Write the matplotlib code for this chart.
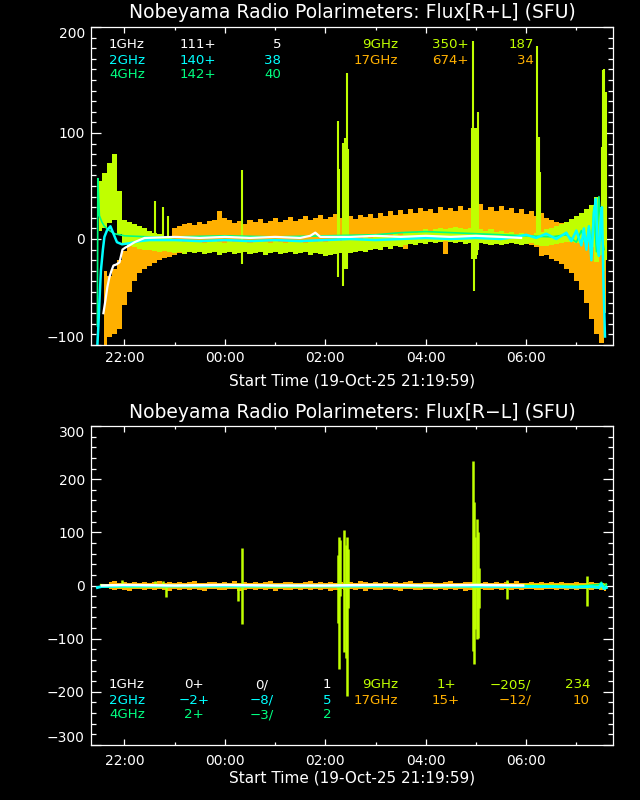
import numpy as np
import matplotlib
matplotlib.use('Agg')
import matplotlib.pyplot as plt
from matplotlib.ticker import MultipleLocator, FuncFormatter

nan = np.nan

# couleurs des canaux (1, 2, 4, 9, 17 GHz)
C1 = '#ffffff'
C2 = '#00ffff'
C4 = '#00ff80'
C9 = '#c0ff00'
C17 = '#ffb000'

# grille de temps des enveloppes de bruit (heures depuis 00:00 le 19-Oct, pas 6 min)
t_env = np.round(np.arange(21.4, 31.61, 0.1), 2)

# ---------------- Flux R+L ----------------
rl_17_hi = [nan, nan, -30, -35, -28, -20, -11, -7, -5, -4,
            -4, -5, -4, -3, -4, -2, 10, 12, 14, 15,
            13, 16, 14, 17, 18, 26, 20, 18, 15, 17,
            14, 18, 16, 19, 15, 17, 20, 16, 18, 21,
            17, 19, 22, 18, 20, 23, 19, 21, 24, 20,
            18, 22, 19, 23, 21, 24, 20, 25, 22, 26,
            23, 27, 24, 28, 25, 29, 26, 28, 25, 30,
            27, 29, 26, 31, 27, 29, 28, 33, 27, 30,
            26, 31, 27, 29, 25, 28, 24, 26, 22, 25,
            20, 18, 16, 15, 13, 11, 9, 7, 6, 4,
            2, 0, -20]
rl_17_lo = [nan, nan, -100, -92, -90, -85, -62, -50, -40, -32,
            -28, -25, -23, -20, -18, -17, -15, -13, -12, -11,
            -10, -11, -9, -10, -9, -8, -9, -10, -8, -9,
            -8, -10, -9, -8, -10, -9, -8, -9, -10, -8,
            -9, -8, -10, -9, -8, -9, -8, -7, -9, -8,
            -7, -8, -6, -7, -6, -5, -6, -5, -4, -5,
            -4, -3, -9, -3, -4, -3, -2, -3, -4, -3,
            -14, -3, -4, -3, -2, -4, -3, -2, -3, -4,
            -3, -2, -4, -3, -5, -4, -5, -6, -8, -16,
            -15, -19, -21, -24, -28, -32, -40, -48, -60, -75,
            -90, -98, -70]

rl_9_hi = [nan, 55, 62, 72, 80, 45, 18, 16, 14, 12,
           10, 8, 6, 5, 3, 2, 0, -2, -3, -2,
           -3, -2, -4, -3, -2, -3, -4, -2, -3, -3,
           -2, -4, -3, -2, -3, -4, -2, -3, -4, -3,
           -2, -3, -4, -2, -3, -2, -3, -2, -1, -2,
           -1, 0, 1, 0, 2, 1, 3, 2, 4, 3,
           5, 4, 6, 7, 6, 8, 9, 8, 9, 10,
           9, 10, 11, 10, 9, 10, 8, 9, 8, 9,
           7, 8, 6, 7, 5, 6, 5, 4, 6, 7,
           9, 10, 12, 14, 16, 19, 22, 25, 28, 32,
           40, 30, 20]
rl_9_lo = [nan, 8, 10, 15, 18, 5, -5, -7, -8, -9,
           -10, -10, -11, -12, -11, -12, -13, -12, -14, -12,
           -13, -12, -14, -13, -12, -15, -13, -12, -14, -13,
           -12, -14, -13, -12, -15, -13, -12, -14, -13, -12,
           -14, -13, -12, -15, -13, -14, -16, -15, -14, -13,
           -14, -13, -12, -11, -12, -10, -9, -10, -8, -9,
           -7, -8, -6, -5, -6, -4, -5, -3, -4, -3,
           -2, -3, -4, -3, -5, -4, -3, -4, -5, -6,
           -5, -6, -5, -4, -5, -6, -5, -4, -6, -7,
           -7, -6, -5, -4, -3, -3, -4, -3, -3, -8,
           -22, -15, -10]

# pics 9 GHz (R+L)
rl_9_spk_t = [22.60, 22.77, 22.87, 24.34, 26.25, 26.28, 26.36, 26.39, 26.43, 26.45,
              28.92, 28.95, 28.97, 29.00, 29.02, 29.04, 30.22, 30.255, 30.28,
              31.51, 31.53, 31.55, 31.59]
rl_9_spk_lo = [0, 0, 0, -24, -36, -5, -44, -28, -28, -10,
               -19, -19, -49, -19, -15, -10, -5, 0, 0,
               -10, -20, -30, -20]
rl_9_spk_hi = [36, 30, 22, 65, 111, 66, 91, 95, 157, 85,
               105, 187, 105, 105, 100, 120, 182, 96, 63,
               87, 159, 160, 139]

rl_4_t = [21.46, 21.47, 21.50, 21.55, 21.60, 21.70, 21.80, 22.00, 22.50, 23.0,
          24.0, 25.0, 26.0, 27.0, 27.5, 28.0, 28.5, 29.0, 29.5, 30.0,
          30.5, 30.8, 31.0, 31.1, 31.2, 31.25, 31.3, 31.35, 31.4, 31.45,
          31.5, 31.55]
rl_4_v = [-82, 57, 22, 16, 12, 8, 5, 3, 2, 2,
          3, 2, 3, 4, 6, 7, 6, 5, 4, 3,
          2, 4, -3, 8, -6, 12, -8, 30, -12, 40,
          5, -10]

rl_2_t = [21.46, 21.48, 21.50, 21.53, 21.57, 21.60, 21.65, 21.72, 21.78, 21.85,
          21.95, 22.1, 22.3, 22.5, 23.0, 23.5, 24.0, 24.5, 25.0, 25.5,
          26.0, 26.5, 27.0, 27.5, 28.0, 28.5, 29.0, 29.5, 29.8, 30.0,
          30.2, 30.4, 30.6, 30.8, 30.9, 31.0, 31.1, 31.15, 31.2, 31.25,
          31.3, 31.35, 31.39, 31.42, 31.45, 31.48, 31.51, 31.54, 31.57]
rl_2_v = [-100, -82, -60, -30, -10, 2, 8, 12, 5, -3,
          -5, -4, -2, -1, -1, -2, -1, -2, -1, -2,
          -1, 0, -1, 0, 1, 0, 1, 0, 2, 4,
          1, 5, 0, 6, -2, 8, -6, 10, -10, 12,
          -20, 25, 38, -5, -16, 15, 30, -40, -92]

rl_1_t = [21.58, 21.62, 21.66, 21.70, 21.74, 21.78, 21.84, 21.90, 21.93, 21.96,
          22.02, 22.1, 22.2, 22.3, 22.4, 23.0, 23.5, 24.0, 24.5, 25.0,
          25.5, 25.7, 25.8, 25.9, 26.5, 27.0, 27.5, 28.0, 28.5, 29.0,
          29.5, 29.9]
rl_1_v = [-70, -58, -45, -36, -30, -25, -24, -22, -16, -10,
          -8, -6, -3, -1, 1, 2, 1, 2, 1, 2,
          1, 3, 6, 2, 2, 3, 2, 3, 2, 3,
          2, 1]

# ---------------- Flux R-L ----------------
lr_17_hi = [nan, nan, nan, 6, 8, 5, 7, 4, 6, 5,
            7, 4, 6, 8, 5, 6, 4, 7, 5, 6,
            8, 5, 4, 6, 7, 5, 6, 4, 8, 5,
            6, 4, 7, 5, 6, 8, 4, 5, 7, 6,
            5, 4, 6, 8, 5, 7, 4, 6, 5, 7,
            4, 6, 5, 8, 6, 4, 7, 5, 6, 4,
            7, 5, 6, 8, 4, 5, 6, 7, 5, 4,
            6, 8, 5, 4, 7, 6, 5, 4, 6, 5,
            7, 4, 6, 5, 8, 5, 4, 6, 5, 7,
            4, 6, 5, 7, 4, 5, 6, 4, 5, 6,
            5, 4, 3]
lr_17_lo = [nan, nan, nan, -7, -9, -6, -8, -10, -7, -6,
            -8, -7, -9, -6, -8, -10, -7, -8, -6, -9,
            -7, -8, -10, -6, -7, -9, -8, -6, -7, -10,
            -8, -6, -9, -7, -8, -6, -10, -7, -8, -9,
            -6, -8, -7, -9, -6, -8, -7, -10, -8, -6,
            -9, -7, -8, -6, -10, -7, -8, -9, -6, -7,
            -8, -10, -7, -6, -8, -9, -7, -6, -8, -7,
            -9, -6, -8, -7, -10, -8, -6, -7, -9, -8,
            -6, -8, -7, -9, -6, -8, -7, -6, -8, -9,
            -7, -6, -8, -7, -9, -6, -8, -7, -6, -8,
            -7, -9, -10]

lr_9_t = [21.5, 22, 23, 24, 25, 26, 27, 28, 29, 30, 31, 31.6]
lr_9_hi = [4, 3, 3, 4, 3, 3, 4, 3, 3, 4, 3, 5]
lr_9_lo = [-3, -4, -3, -3, -4, -3, -3, -4, -3, -3, -4, -5]

lr_9_spk_t = [21.95, 22.61, 22.77, 22.83, 24.26, 24.34, 26.25, 26.27, 26.29, 26.37,
              26.41, 26.44, 26.46, 28.94, 28.96, 28.98, 29.02, 29.04, 29.06, 29.62,
              31.21]
lr_9_spk_lo = [0, 0, -4, -21, -30, -72, -70, -157, -20, -126,
               -136, -208, -43, -123, -147, -81, -100, -98, -43, -25,
               -38]
lr_9_spk_hi = [10, 8, 8, 0, 5, 70, 57, 91, 85, 104,
               77, 92, 68, 234, 157, 92, 126, 100, 32, 11,
               17]

lr_4_t = [21.46, 21.55, 25, 29, 31.0, 31.45, 31.5, 31.55, 31.6]
lr_4_v = [-3, -2, 0, 0, -2, 2, 6, -3, 2]

lr_2_t = [21.46, 21.5, 21.55, 22, 24, 26, 28, 29.94, 30.5, 31.0, 31.3, 31.45, 31.5, 31.55, 31.6]
lr_2_v = [-4, -3, -2, -1, -1, -1, -1, -2, -2, -3, -2, -4, 3, -6, -4]

lr_1_t = [21.55, 22, 23, 24, 25, 26, 27, 28, 29, 29.94]
lr_1_v = [0, 1, 0, 1, 0, 0, 1, 0, 1, 0]

# textes de légende
names_a = ['1GHz', '2GHz', '4GHz']
names_b = ['9GHz', '17GHz']
cols_a = [C1, C2, C4]
cols_b = [C9, C17]
rl_off_a = ['111+', '140+', '142+']
rl_max_a = ['5', '38', '40']
rl_off_b = ['350+', '674+']
rl_max_b = ['187', '34']
lr_off_a = ['0+', '\u22122+', '2+']
lr_min_a = ['0/', '\u22128/', '\u22123/']
lr_max_a = ['1', '5', '2']
lr_off_b = ['1+', '15+']
lr_min_b = ['\u2212205/', '\u221212/']
lr_max_b = ['234', '10']

plt.rcParams['font.family'] = ['DejaVu Sans']

fig = plt.figure(figsize=(6.4, 8), dpi=100, facecolor='black')


def fx(px):
    return px / 640.0


def fy(py):
    return 1 - py / 800.0


def style_axes(ax, ymin, ymax, yminor, xpad):
    ax.set_facecolor('black')
    for s in ax.spines.values():
        s.set_color('white')
        s.set_linewidth(0.9)
    ax.set_xlim(21.333, 31.73)
    ax.set_ylim(ymin, ymax)
    ax.set_xticks([22, 24, 26, 28, 30])
    ax.xaxis.set_minor_locator(MultipleLocator(1))
    ax.xaxis.set_major_formatter(FuncFormatter(lambda v, p: '%02d:00' % (int(round(v)) % 24)))
    yt = list(range(ymin, ymax + 1, 100))
    ax.set_yticks(yt, [str(v).replace('-', '\u2212') for v in yt])
    ax.yaxis.set_minor_locator(MultipleLocator(yminor))
    ax.tick_params(which='both', direction='in', top=True, right=True,
                   colors='white', labelcolor='white', labelsize=10, width=0.9)
    ax.tick_params(axis='x', which='major', length=4.3, pad=xpad)
    ax.tick_params(axis='x', which='minor', length=2.2)
    ax.tick_params(axis='y', which='major', length=7.2, pad=4.5)
    ax.tick_params(axis='y', which='minor', length=3.6)
    labs = ax.get_yticklabels()
    labs[0].set_va('bottom')
    labs[-1].set_va('top')


# ---- panneau haut : R+L
ax1 = fig.add_axes([fx(91), fy(345), fx(522), 318 / 800.0])
ax1.fill_between(t_env, rl_17_lo, rl_17_hi, step='mid', color=C17, lw=0)
ax1.fill_between(t_env, rl_9_lo, rl_9_hi, step='mid', color=C9, lw=0)
ax1.vlines(rl_9_spk_t, rl_9_spk_lo, rl_9_spk_hi, color=C9, lw=1.5)
ax1.plot(rl_4_t, rl_4_v, color=C4, lw=1.2)
ax1.plot(rl_2_t, rl_2_v, color=C2, lw=1.8)
ax1.plot(rl_1_t, rl_1_v, color=C1, lw=1.6)
style_axes(ax1, -100, 200, 10, 4.5)

# ---- panneau bas : R-L
ax2 = fig.add_axes([fx(91), fy(745), fx(522), 319 / 800.0])
ax2.fill_between(t_env, lr_17_lo, lr_17_hi, step='mid', color=C17, lw=0)
ax2.fill_between(lr_9_t, lr_9_lo, lr_9_hi, color=C9, lw=0)
ax2.vlines(lr_9_spk_t, lr_9_spk_lo, lr_9_spk_hi, color=C9, lw=1.8)
ax2.plot(lr_4_t, lr_4_v, color=C4, lw=1.2)
ax2.plot(lr_2_t, lr_2_v, color=C2, lw=2.0)
ax2.plot(lr_1_t, lr_1_v, color=C1, lw=1.8)
style_axes(ax2, -300, 300, 20, 6.5)

# titres et étiquettes
fig.text(fx(352), fy(13), 'Nobeyama Radio Polarimeters: Flux[R+L] (SFU)',
         color='white', fontsize=13.5, ha='center', va='center')
fig.text(fx(352), fy(413), 'Nobeyama Radio Polarimeters: Flux[R\u2212L] (SFU)',
         color='white', fontsize=13.5, ha='center', va='center')
fig.text(fx(352), fy(381), 'Start Time (19-Oct-25 21:19:59)',
         color='white', fontsize=11, ha='center', va='center')
fig.text(fx(352), fy(778), 'Start Time (19-Oct-25 21:19:59)',
         color='white', fontsize=11, ha='center', va='center')

# légende haut
rows_top = [45, 60, 74]
for i in range(3):
    y = fy(rows_top[i])
    fig.text(fx(109), y, names_a[i], color=cols_a[i], fontsize=9.6, va='center')
    fig.text(fx(198), y, rl_off_a[i], color=cols_a[i], fontsize=9.6, va='center', ha='center')
    fig.text(fx(281), y, rl_max_a[i], color=cols_a[i], fontsize=9.6, va='center', ha='right')
for i in range(2):
    y = fy(rows_top[i])
    fig.text(fx(398), y, names_b[i], color=cols_b[i], fontsize=9.6, va='center', ha='right')
    fig.text(fx(469), y, rl_off_b[i], color=cols_b[i], fontsize=9.6, va='center', ha='right')
    fig.text(fx(534), y, rl_max_b[i], color=cols_b[i], fontsize=9.6, va='center', ha='right')

# légende bas
rows_bot = [685, 700, 715]
for i in range(3):
    y = fy(rows_bot[i])
    fig.text(fx(109), y, names_a[i], color=cols_a[i], fontsize=9.6, va='center')
    fig.text(fx(194), y, lr_off_a[i], color=cols_a[i], fontsize=9.6, va='center', ha='center')
    fig.text(fx(262), y, lr_min_a[i], color=cols_a[i], fontsize=9.6, va='center', ha='center')
    fig.text(fx(327), y, lr_max_a[i], color=cols_a[i], fontsize=9.6, va='center', ha='center')
for i in range(2):
    y = fy(rows_bot[i])
    fig.text(fx(398), y, names_b[i], color=cols_b[i], fontsize=9.6, va='center', ha='right')
    fig.text(fx(446), y, lr_off_b[i], color=cols_b[i], fontsize=9.6, va='center', ha='center')
    fig.text(fx(531), y, lr_min_b[i], color=cols_b[i], fontsize=9.6, va='center', ha='right')
    fig.text(fx(590), y, lr_max_b[i], color=cols_b[i], fontsize=9.6, va='center', ha='right')

fig.savefig('out.png', dpi=100, facecolor='black')
